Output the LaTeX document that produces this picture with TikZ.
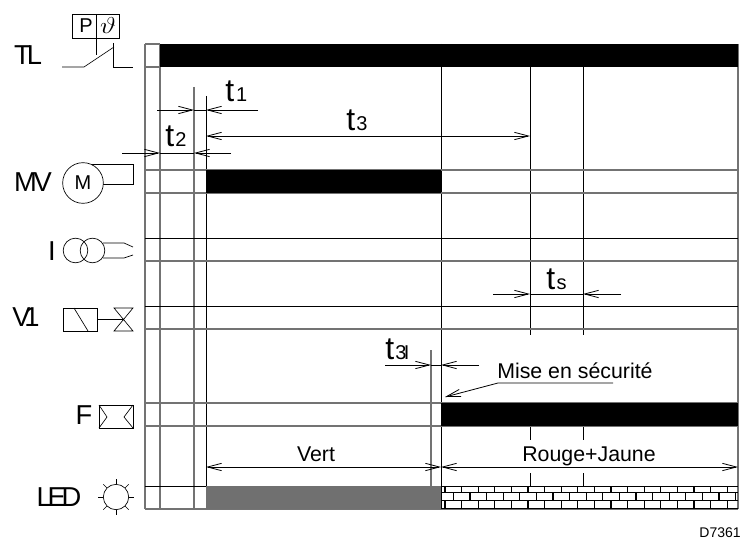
\documentclass[tikz,border=0pt]{standalone}
\usepackage{fontspec}
\setmainfont{Liberation Sans}
\usepackage{xcolor}
\usepackage{tikz}
\usetikzlibrary{arrows.meta,positioning,calc}
\definecolor{gridgray}{gray}{0.45}
\definecolor{ledgray}{gray}{0.44}
\newcommand{\biglabel}{\fontsize{20.5}{20.5}\selectfont}
\newcommand{\timefont}{\fontsize{24}{24}\selectfont}
\newcommand{\sublabel}{\fontsize{15}{15}\selectfont}
\newcommand{\midlabel}{\fontsize{16}{16}\selectfont}

\begin{document}
\begin{tikzpicture}[
  x=0.75pt, y=-0.75pt,
  greyline/.style={draw=gridgray, line width=0.85pt},
  thinline/.style={draw=black, line width=0.6pt},
  symbol/.style={draw=black, line width=0.5pt},
  dimline/.style={thinline, -{Straight Barb[length=10.5pt, width=5.5pt]}},
  dimboth/.style={thinline, {Straight Barb[length=10.5pt, width=5.5pt]}-{Straight Barb[length=10.5pt, width=5.5pt]}},
  sig/.style={inner sep=0pt, font=\biglabel},
  timelabel/.style={inner sep=0pt, anchor=base west, font=\timefont},
  caption/.style={inner sep=0pt, anchor=base, font=\midlabel}
]
\useasboundingbox (0,0) rectangle (741,538);

% grid
\draw[greyline] (145,44) -- (145,509);
\draw[greyline] (160,44) -- (160,509);
\draw[greyline] (194,87) -- (194,509);
\draw[thinline] (206,96) -- (206,509);
\draw[greyline] (431,350) -- (431,486);
\draw[thinline] (441,44) -- (441,509);
\draw[thinline] (530,67) -- (530,335);
\draw[thinline] (583,67) -- (583,335);
\draw[thinline] (530,426) -- (530,440);
\draw[thinline] (583,426) -- (583,440);
\draw[thinline] (530,473) -- (530,486);
\draw[thinline] (583,473) -- (583,486);
\draw[greyline] (738,44) -- (738,509);
\draw[greyline] (145,44) -- (160,44);
\draw[greyline] (145,67) -- (160,67);
\draw[greyline] (145,170) -- (738,170);
\draw[greyline] (145,193) -- (738,193);
\draw[thinline] (145,238) -- (738,238);
\draw[greyline] (145,261) -- (738,261);
\draw[thinline] (145,306) -- (738,306);
\draw[greyline] (145,329) -- (738,329);
\draw[greyline] (145,403) -- (738,403);
\draw[greyline] (145,426) -- (738,426);
\draw[thinline] (145,486) -- (738,486);
\draw[greyline] (145,509) -- (738,509);

% bars
\fill[black] (160,44) rectangle (738,67);
\fill[black] (206,170) rectangle (441,193);
\fill[black] (441,403) rectangle (738,426);
\fill[ledgray] (206,486) rectangle (441,509);

% bricks
\begin{scope}
\clip (441,486) rectangle (738,509);
\foreach \yy in {486.5,492.5,500.5,508.5}
  \draw[black, line width=0.9pt] (441,\yy) -- (738,\yy);
\foreach \nn in {0,...,17} {
  \draw[black, line width=0.9pt] (445+16.6*\nn,486) -- (445+16.6*\nn,492.5);
  \draw[black, line width=0.9pt] (453.3+16.6*\nn,492.5) -- (453.3+16.6*\nn,500.5);
  \draw[black, line width=0.9pt] (445+16.6*\nn,500.5) -- (445+16.6*\nn,509);
}
\end{scope}
\draw[thinline] (441,486) -- (441,509);

% signal names
\node[sig] (tl) at (28,55) {T\kern-3pt L};
\node[sig] (mv) at (33,182) {M\kern-2.6pt V};
\node[sig] (ib) at (52,251) {I};
\node[sig] (vone) at (26,317) {V\kern-4.6pt 1};
\node[sig] (fb) at (84,415) {F};
\node[sig] (led) at (59,497) {L\kern-3.2pt E\kern-3.2pt D};

% pressostat
\draw[symbol] (72,14) rectangle (119,38);
\draw[symbol] (96,14) -- (96,55);
\node[inner sep=0pt, font=\sublabel] (pp) at (86,26) {P};
\node[inner sep=0pt, xscale=1.2, font=\fontsize{19}{19}\selectfont] (theta) at (108,26) {$\vartheta$};
\draw[symbol] (62,67) -- (84,67) -- (114,47);
\draw[symbol] (113,43) -- (113,67) -- (133,67);

% motor
\draw[symbol] (80,164) -- (133,164) -- (133,184) -- (103,184);
\node[circle, draw=black, line width=0.5pt, fill=white, minimum size=30.5pt, inner sep=0pt, font=\sublabel] (motor) at (83,183) {M};

% transformer
\node[circle, symbol, minimum size=18.5pt, inner sep=0pt] (coila) at (75.5,250.5) {};
\node[circle, symbol, minimum size=18.5pt, inner sep=0pt] (coilb) at (92.5,250.5) {};
\draw[symbol] (103,243) -- (124,243) -- (133,247);
\draw[symbol] (103,258) -- (124,258) -- (133,255);

% valve
\draw[symbol] (63,308) rectangle (97.5,331);
\draw[symbol] (74,308) -- (88,331);
\draw[symbol] (97.5,319) -- (123.5,319);
\draw[symbol] (114,308) -- (133,308) -- (114,331) -- (133,331) -- cycle;

% flame box
\draw[symbol] (99,405) rectangle (133,428);
\draw[symbol] (99,405) -- (107,417) -- (99,428);
\draw[symbol] (133,405) -- (124,417) -- (133,428);

% lamp
\node[circle, symbol, minimum size=19pt, inner sep=0pt] (lamp) at (116,497) {};
\foreach \aa in {0,45,...,315}
  \draw[symbol] ($(lamp)+(\aa:13)$) -- ($(lamp)+(\aa:18)$);

% time marks
\coordinate (tonea) at (157,110);
\coordinate (toneb) at (194,110);
\coordinate (tonec) at (258,110);
\coordinate (toned) at (206,110);
\coordinate (ttwoa) at (122,153);
\coordinate (ttwob) at (160,153);
\coordinate (ttwoc) at (231,153);
\coordinate (ttwod) at (194,153);
\coordinate (tthreea) at (206,136);
\coordinate (tthreeb) at (530,136);
\coordinate (tsa) at (493,294);
\coordinate (tsb) at (530,294);
\coordinate (tsc) at (621,294);
\coordinate (tsd) at (583,294);
\coordinate (tila) at (385,365);
\coordinate (tilb) at (431,365);
\coordinate (tilc) at (479,365);
\coordinate (tild) at (441,365);
\coordinate (misea) at (613,383);
\coordinate (miseb) at (498,383);
\coordinate (misec) at (445,397);
\coordinate (verta) at (206,467);
\coordinate (vertb) at (441,467);
\coordinate (rougea) at (441,467);
\coordinate (rougeb) at (738,467);

\draw[dimline] (tonea) -- (toneb);
\draw[dimline] (tonec) -- (toned);
\draw[thinline] (toneb) -- (toned);
\draw[dimline] (ttwoa) -- (ttwob);
\draw[dimline] (ttwoc) -- (ttwod);
\draw[thinline] (ttwob) -- (ttwod);
\draw[dimboth] (tthreea) -- (tthreeb);
\draw[dimline] (tsa) -- (tsb);
\draw[dimline] (tsc) -- (tsd);
\draw[thinline] (tsb) -- (tsd);
\draw[dimline] (tila) -- (tilb);
\draw[dimline] (tilc) -- (tild);
\draw[thinline] (tilb) -- (tild);
\draw[dimline] (misea) -- (miseb) -- (misec);
\draw[dimboth] (verta) -- (vertb);
\draw[dimboth] (rougea) -- (rougeb);

\node[timelabel] (tone) at (225,102) {t\kern1.5pt{\sublabel 1}};
\node[timelabel] (ttwo) at (165,147) {t\kern1pt{\sublabel 2}};
\node[timelabel] (tthree) at (346,131) {t\kern1pt{\sublabel 3}};
\node[timelabel] (tsec) at (546,289) {t\kern1pt{\sublabel s}};
\node[timelabel] (til) at (385,359) {t\kern1pt{\sublabel 3\kern-2pt I}};
\node[caption, anchor=base west] (mise) at (497,378) {Mise en sécurité};
\node[caption] (vert) at (316,461) {Vert};
\node[caption] (rouge) at (589,461) {Rouge+Jaune};
\node[inner sep=0pt, anchor=base east, font=\fontsize{10.5}{10.5}\selectfont] (ref) at (741,537) {D7361};
\end{tikzpicture}
\end{document}
